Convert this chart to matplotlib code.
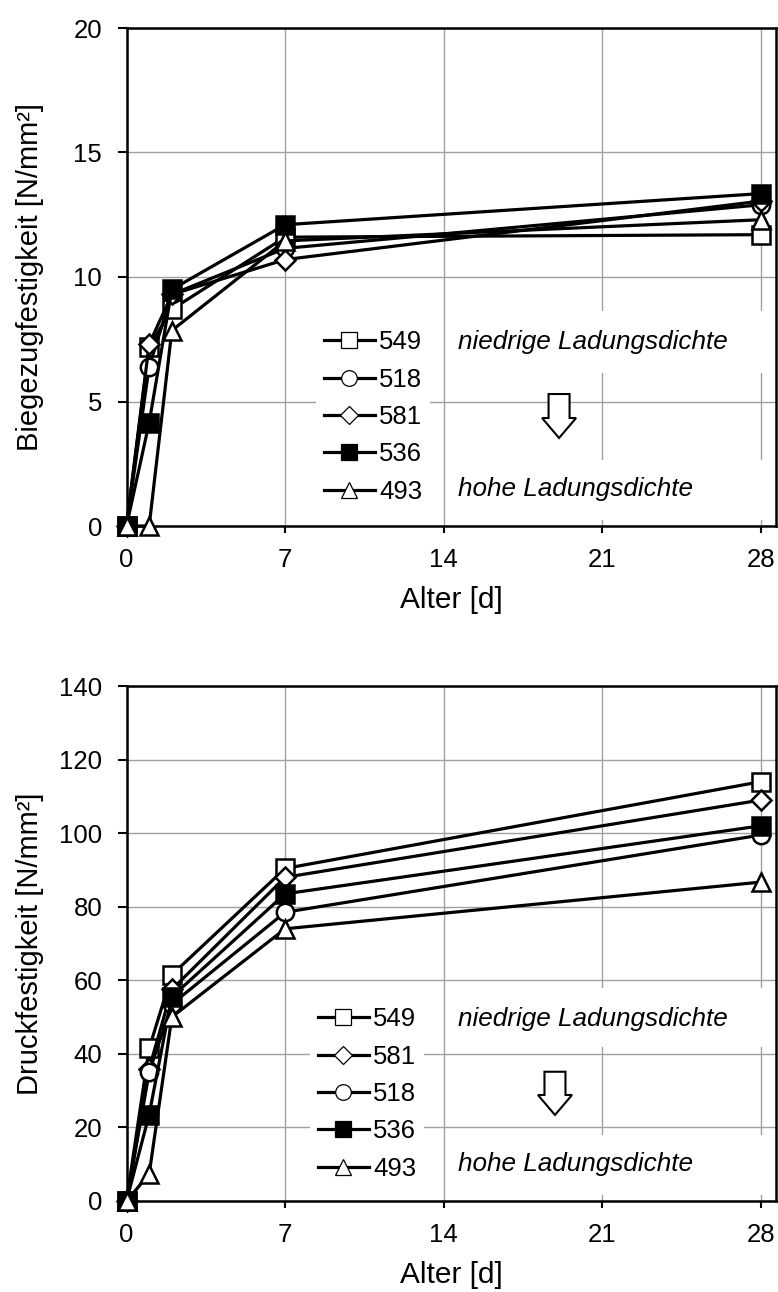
import matplotlib
matplotlib.use("Agg")
import matplotlib.pyplot as plt
from matplotlib.lines import Line2D
from matplotlib.patches import Rectangle, FancyArrow

plt.rcParams['font.family'] = ['Liberation Sans', 'DejaVu Sans']

# Alter [d]
days = [0, 1, 2, 7, 28]

# Biegezugfestigkeit [N/mm²]
bz_549 = [0, 7.2, 8.7, 11.6, 11.7]
bz_518 = [0, 6.4, 9.3, 11.15, 12.9]
bz_581 = [0, 7.3, 9.3, 10.7, 13.05]
bz_536 = [0, 4.15, 9.5, 12.1, 13.35]
bz_493 = [0, 0.0, 7.85, 11.45, 12.3]

# Druckfestigkeit [N/mm²]
dr_549 = [0, 41.5, 61.5, 90.4, 114.0]
dr_581 = [0, 36.0, 57.5, 88.0, 109.0]
dr_518 = [0, 35.0, 53.5, 78.5, 99.5]
dr_536 = [0, 23.5, 55.5, 83.5, 102.0]
dr_493 = [0, 7.3, 50.0, 74.0, 86.7]

x_ticks = [0, 7, 14, 21, 28]
bz_ticks = [0, 5, 10, 15, 20]
dr_ticks = [0, 20, 40, 60, 80, 100, 120, 140]

# marker style per sample
styles = {
    '549': dict(marker='s', mfc='white', ms=12.5),
    '518': dict(marker='o', mfc='white', ms=12.5),
    '581': dict(marker='D', mfc='white', ms=10),
    '536': dict(marker='s', mfc='black', ms=12.5),
    '493': dict(marker='^', mfc='white', ms=13.5),
}

W, H = 778, 1292
fig = plt.figure(figsize=(W / 100, H / 100), dpi=100)
x0, x1 = 126.5, 776


def make_ax(top, bottom):
    return fig.add_axes([x0 / W, (H - bottom) / H, (x1 - x0) / W, (bottom - top) / H])


ax1 = make_ax(28, 526)
ax2 = make_ax(686, 1201)


def style_ax(ax, yticks, ylabel, xlab_off):
    ax.set_xlim(0, 28.66)
    ax.set_ylim(yticks[0], yticks[-1])
    ax.set_xticks(x_ticks)
    ax.set_yticks(yticks)
    ax.grid(True, color='#a0a0a0', lw=1.0)
    ax.set_axisbelow(True)
    for s in ax.spines.values():
        s.set_linewidth(1.8)
        s.set_color('black')
    ax.tick_params(axis='y', direction='out', length=6.5, width=1.5, pad=11, labelsize=18.5)
    ax.tick_params(axis='x', direction='out', length=5, width=1.5, pad=11, labelsize=18.5)
    ax.set_xlabel('Alter [d]', fontsize=21.5, va='center')
    ax.set_ylabel(ylabel, fontsize=21, va='center')
    h = ax.get_window_extent().height
    ax.xaxis.set_label_coords(0.5, -xlab_off / h)
    ax.yaxis.set_label_coords(-96.5 / (x1 - x0), 0.5)


def draw(ax, names, series):
    for name, ys in zip(names, series):
        st = styles[name]
        ax.plot(days, ys, color='black', lw=2.3, marker=st['marker'], ms=st['ms'],
                mfc=st['mfc'], mec='black', mew=1.8, clip_on=False, zorder=3)


def add_legend(ax, names, anchor):
    handles = []
    for name in names:
        st = styles[name]
        handles.append(Line2D([], [], color='black', lw=2.3, marker=st['marker'],
                              ms=st['ms'] * 0.9, mfc=st['mfc'], mec='black', mew=0.9))
    ax.legend(handles, names, loc='upper left', bbox_to_anchor=anchor, fontsize=18.5,
              frameon=True, fancybox=False, framealpha=1, facecolor='white',
              edgecolor='none', handlelength=2.0, handletextpad=0.15,
              labelspacing=0.52, borderpad=0.3, borderaxespad=0)


def add_notes(ax, y_top_text, y_bot_text, box_top, box_bot, arrow_x, arrow_top, arrow_tip):
    w = x1 - x0
    h = ax.get_window_extent().height
    for (b0, b1) in (box_top, box_bot):
        ax.add_patch(Rectangle((0.498, b0), 0.496, b1 - b0, transform=ax.transAxes,
                               facecolor='white', edgecolor='none', zorder=1))
    ax.text(0.51, y_top_text, 'niedrige Ladungsdichte', transform=ax.transAxes,
            fontsize=18.8, style='italic', va='center', ha='left', zorder=4)
    ax.text(0.51, y_bot_text, 'hohe Ladungsdichte', transform=ax.transAxes,
            fontsize=18.8, style='italic', va='center', ha='left', zorder=4)
    ax.add_patch(FancyArrow(arrow_x, arrow_top, 0, arrow_tip - arrow_top,
                            width=21 / w, head_width=34 / w, head_length=20 / h,
                            length_includes_head=True, transform=ax.transAxes,
                            facecolor='white', edgecolor='black', lw=1.5, zorder=4))


style_ax(ax1, bz_ticks, 'Biegezugfestigkeit [N/mm²]', 74)
style_ax(ax2, dr_ticks, 'Druckfestigkeit [N/mm²]', 74)

names1 = ['549', '518', '581', '536', '493']
draw(ax1, names1, [bz_549, bz_518, bz_581, bz_536, bz_493])
add_legend(ax1, names1, (0.2918, 0.4084))
add_notes(ax1, 0.3695, 0.0743, (0.012, 0.1325), (0.307, 0.432),
          0.666, 0.265, 0.1767)

names2 = ['549', '581', '518', '536', '493']
draw(ax2, names2, [dr_549, dr_581, dr_518, dr_536, dr_493])
add_legend(ax2, names2, (0.2825, 0.391))
add_notes(ax2, 0.3534, 0.0718, (0.0117, 0.128), (0.299, 0.4136),
          0.6597, 0.251, 0.167)

fig.savefig('out.png', dpi=100)
